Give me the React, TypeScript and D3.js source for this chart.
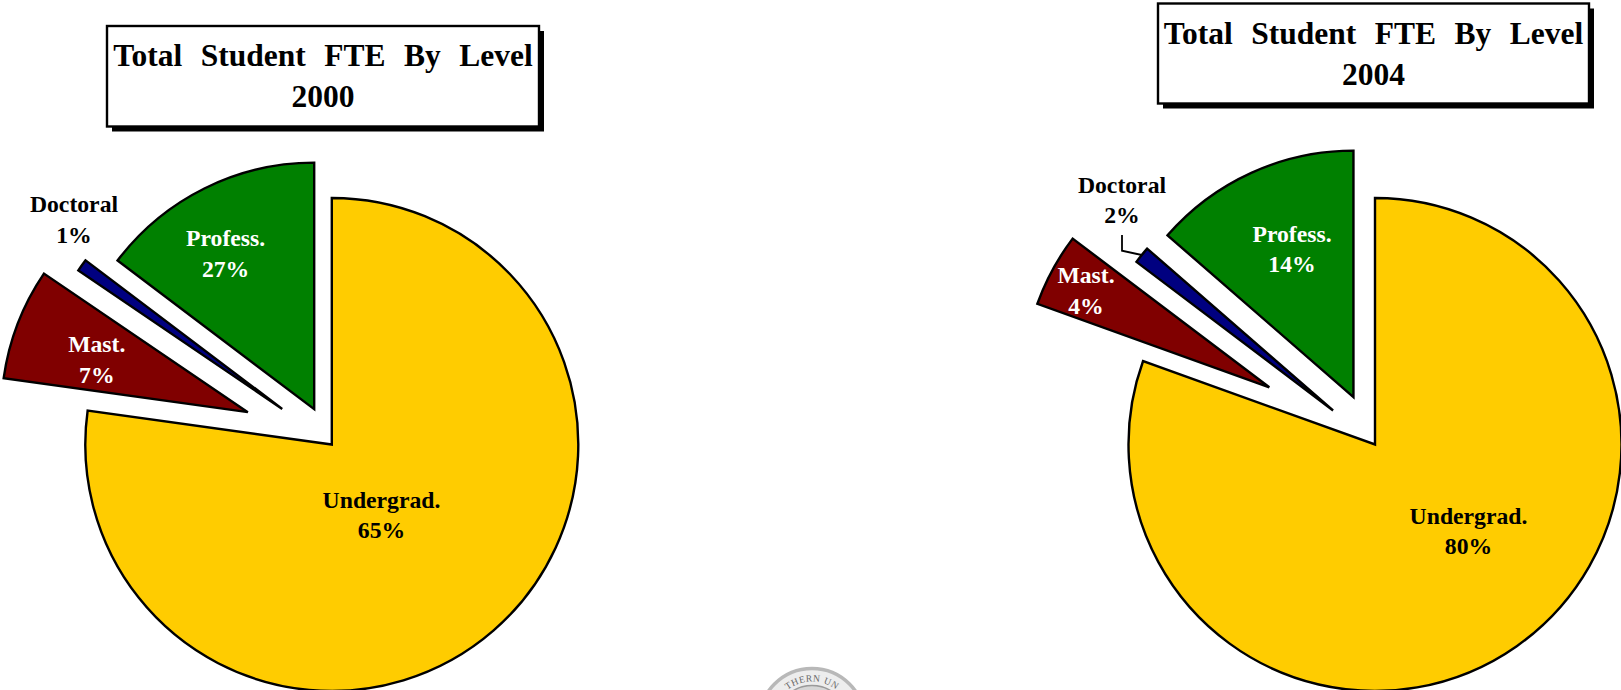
import React from "react";
import * as d3 from "d3";

const W = 1621;
const H = 690;

const categories = ["Undergrad.", "Mast.", "Doctoral", "Profess."];
// Slice shares as drawn in the picture (angles)
const shares2000 = [77.2, 7.3, 0.8, 14.7];
const shares2004 = [80.5, 4.8, 1.1, 13.6];
// Percent labels as printed
const labels2000 = ["65%", "7%", "1%", "27%"];
const labels2004 = ["80%", "4%", "2%", "14%"];
const titleText = "Total Student FTE By Level";
const sealText = "THERN UN";

const sliceColors = ["#FFCC00", "#800000", "#000080", "#008000"];
const labelColors = ["#000000", "#FFFFFF", "#000000", "#FFFFFF"];
const FONT = "'Liberation Serif', 'Times New Roman', serif";

type PieCfg = {
  year: string;
  shares: number[];
  labels: string[];
  cx: number;
  cy: number;
  r: number;
  explode: number[];
  labelPos: [number, number][];
  box: [number, number, number, number];
  leader?: [number, number][];
};

const pies: PieCfg[] = [
  {
    year: "2000",
    shares: shares2000,
    labels: labels2000,
    cx: 331.8,
    cy: 444.5,
    r: 246.5,
    explode: [0, 90, 61, 39.5],
    labelPos: [
      [381.5, 507.6],
      [96.8, 352],
      [74, 212],
      [225.6, 246],
    ],
    box: [107, 26, 539, 126.5],
  },
  {
    year: "2004",
    shares: shares2004,
    labels: labels2004,
    cx: 1375,
    cy: 444.5,
    r: 246.5,
    explode: [0, 120.2, 54, 52],
    labelPos: [
      [1468.5, 523.5],
      [1086, 283],
      [1122, 192.5],
      [1292, 241.5],
    ],
    box: [1158, 3.5, 1589, 103.5],
    leader: [
      [1122, 235],
      [1122, 250.7],
      [1141.7, 255],
    ],
  },
];

function Pie({ cfg }: { cfg: PieCfg }) {
  const arcs = d3
    .pie<number>()
    .sort(null)
    .startAngle(0)
    .endAngle(2 * Math.PI)(cfg.shares);
  const arc = d3.arc<d3.PieArcDatum<number>>().innerRadius(0).outerRadius(cfg.r);
  const [x0, y0, x1, y1] = cfg.box;
  const mid = (x0 + x1) / 2;
  const lineGen = d3.line();
  return (
    <g>
      <rect x={x0 + 5} y={y0 + 5} width={x1 - x0} height={y1 - y0} fill="#000" />
      <rect x={x0} y={y0} width={x1 - x0} height={y1 - y0} fill="#fff" stroke="#000" strokeWidth={2.4} />
      <text x={mid} y={y0 + 40} textAnchor="middle" fontFamily={FONT} fontWeight="bold" fontSize={31.5} wordSpacing={10.6} fill="#000">
        {titleText}
      </text>
      <text x={mid} y={y0 + 81} textAnchor="middle" fontFamily={FONT} fontWeight="bold" fontSize={31.5} fill="#000">
        {cfg.year}
      </text>
      {arcs.map((a, i) => {
        const m = (a.startAngle + a.endAngle) / 2;
        const dx = Math.sin(m) * cfg.explode[i];
        const dy = -Math.cos(m) * cfg.explode[i];
        return (
          <path
            key={i}
            d={arc(a) ?? ""}
            transform={`translate(${cfg.cx + dx},${cfg.cy + dy})`}
            fill={sliceColors[i]}
            stroke="#000"
            strokeWidth={2.4}
            strokeLinejoin="miter"
          />
        );
      })}
      {cfg.leader && <path d={lineGen(cfg.leader) ?? ""} fill="none" stroke="#000" strokeWidth={1.8} />}
      {categories.map((c, i) => (
        <text key={c} textAnchor="middle" fontFamily={FONT} fontWeight="bold" fontSize={23.7} fill={labelColors[i]}>
          <tspan x={cfg.labelPos[i][0]} y={cfg.labelPos[i][1]}>{c}</tspan>
          <tspan x={cfg.labelPos[i][0]} y={cfg.labelPos[i][1] + 30.5}>{cfg.labels[i]}</tspan>
        </text>
      ))}
    </g>
  );
}

function Seal() {
  const cx = 812;
  const cy = 721.5;
  const tr = 40;
  return (
    <g>
      <circle cx={cx} cy={cy} r={53} fill="#ededed" stroke="#b8b8b8" strokeWidth={3.5} />
      <circle cx={cx} cy={cy} r={36} fill="#d6d6d6" stroke="#9a9a9a" strokeWidth={1.5} />
      <path id="sealArc" d={`M ${cx - tr} ${cy} A ${tr} ${tr} 0 0 1 ${cx + tr} ${cy}`} fill="none" />
      <text fontFamily={FONT} fontSize={9.5} fill="#666" letterSpacing={0.6}>
        <textPath href="#sealArc" startOffset="50%" textAnchor="middle">{sealText}</textPath>
      </text>
    </g>
  );
}

export default function App() {
  return (
    <svg width={W} height={H} viewBox={`0 0 ${W} ${H}`} style={{ position: "absolute", left: 0, top: 0, display: "block", background: "#fff" }}>
      <Seal />
      {pies.map((p) => (
        <Pie key={p.year} cfg={p} />
      ))}
    </svg>
  );
}
